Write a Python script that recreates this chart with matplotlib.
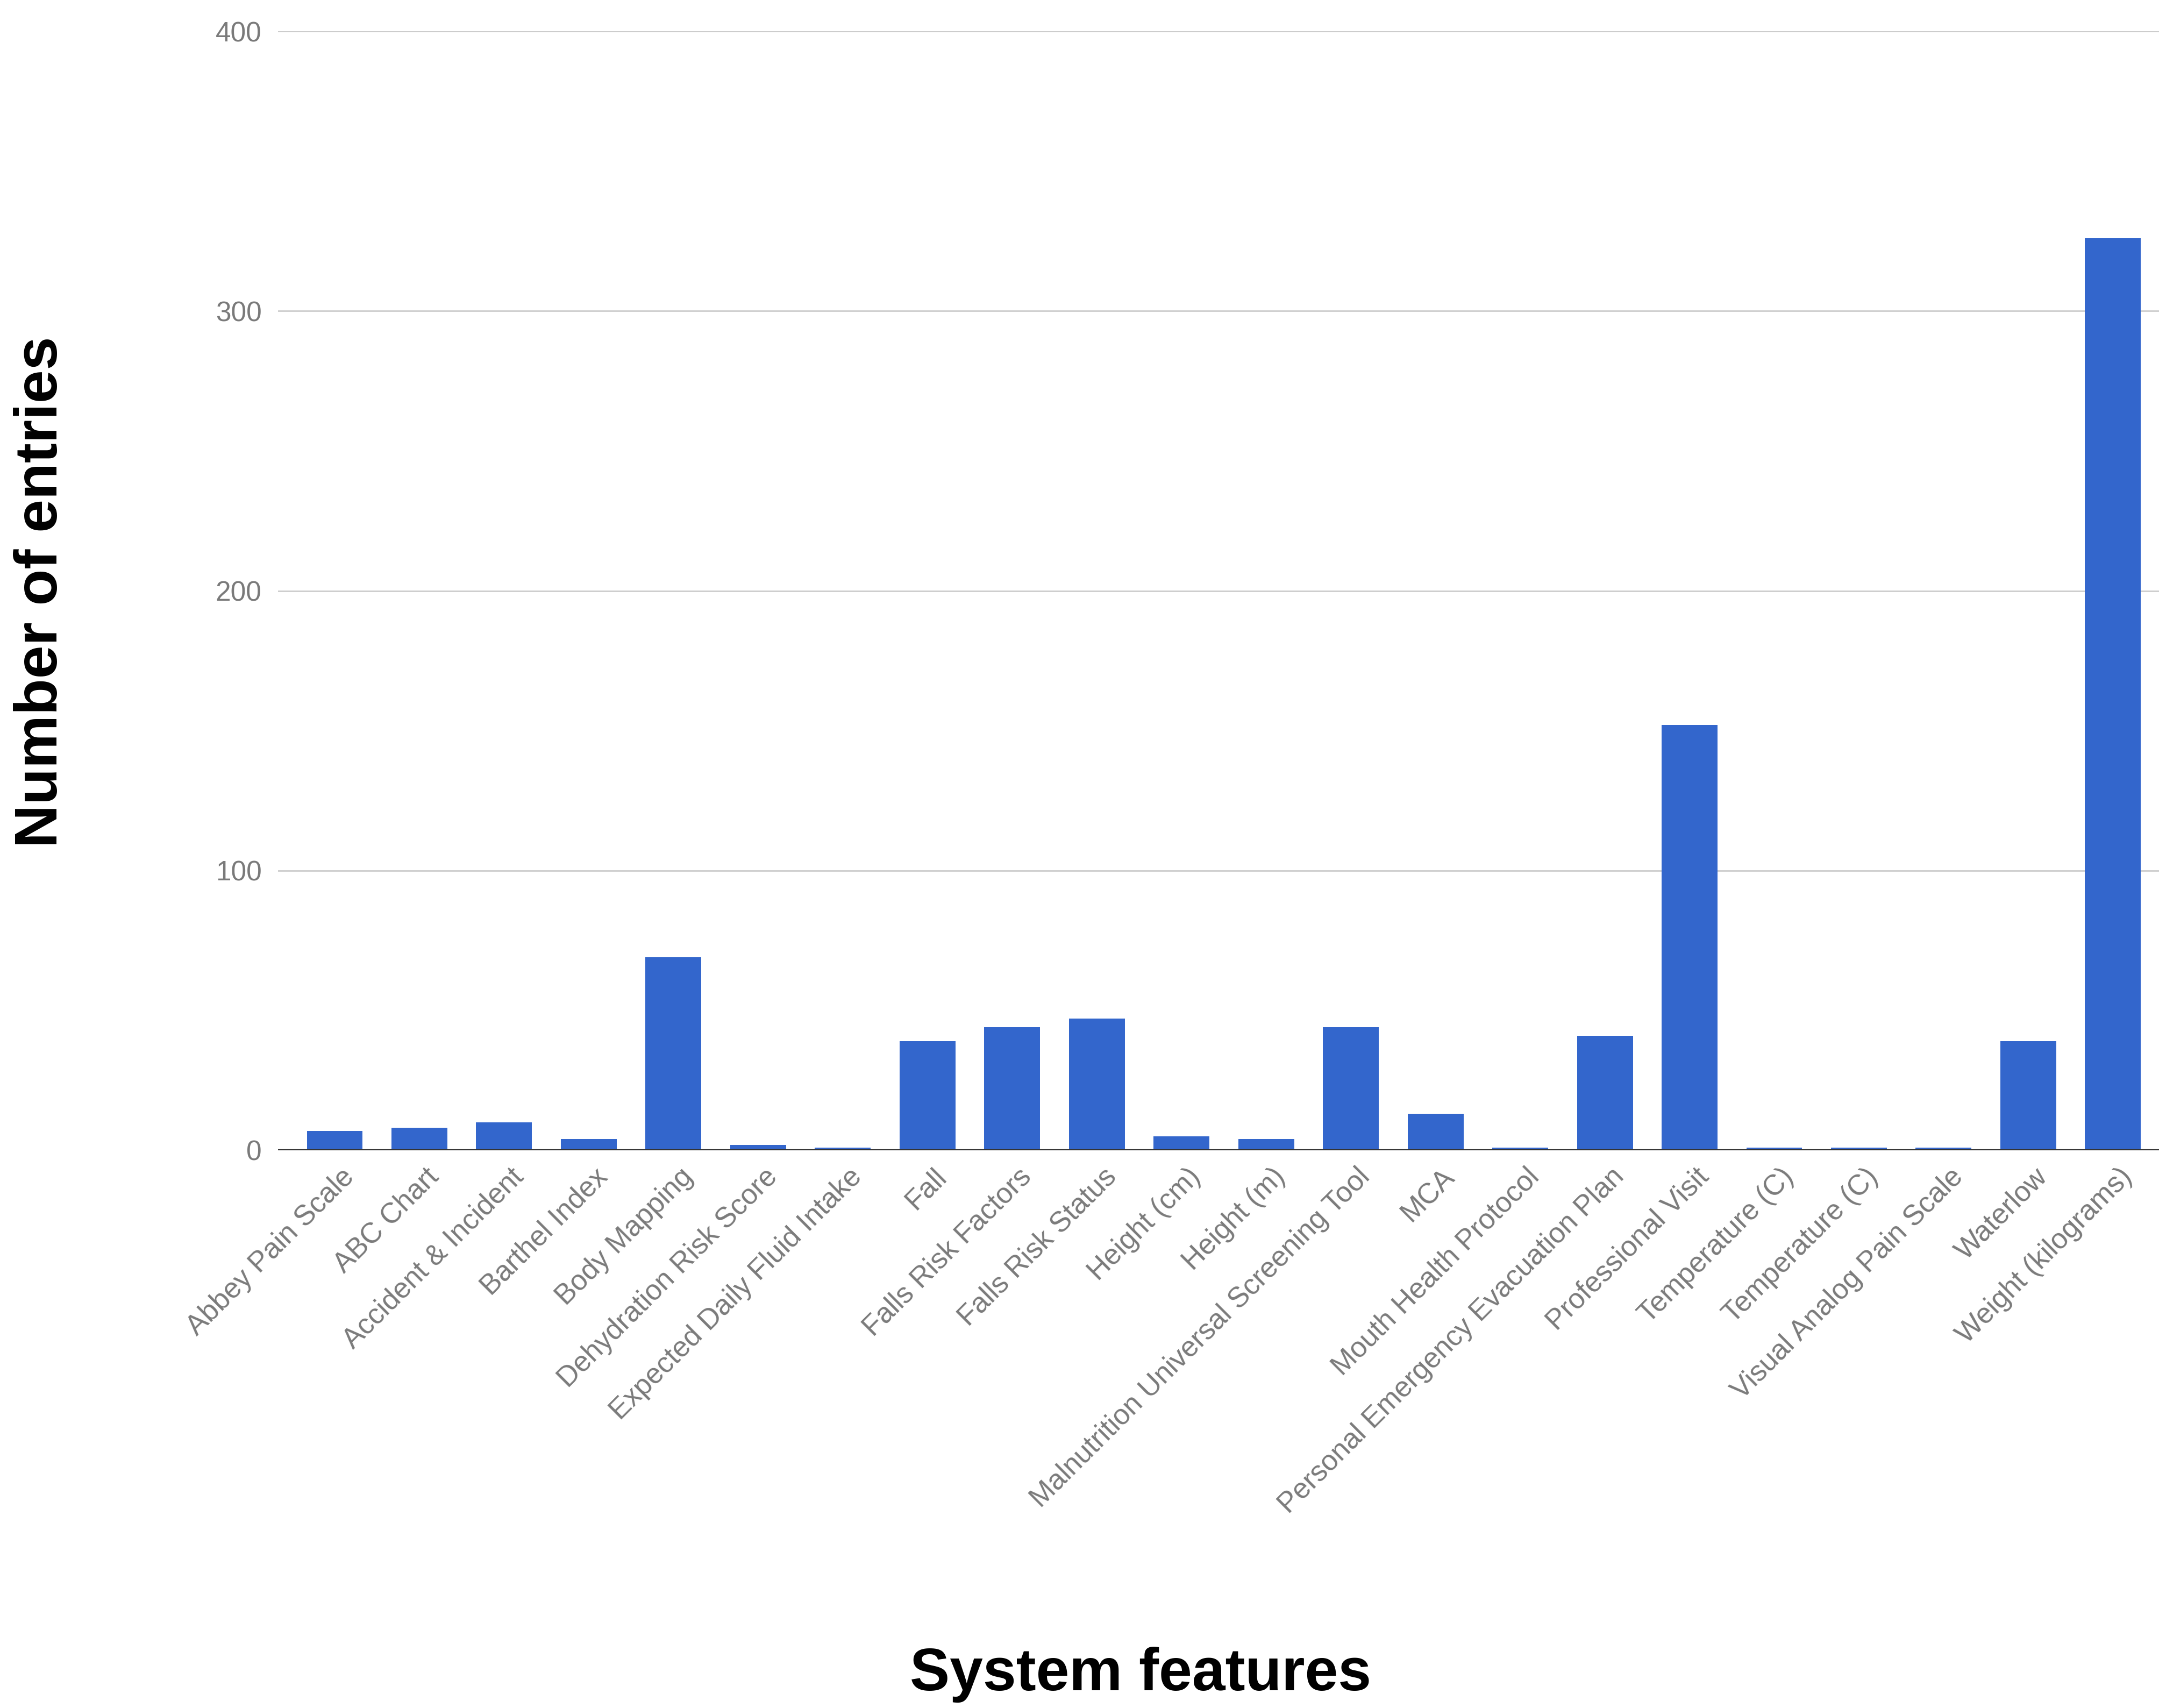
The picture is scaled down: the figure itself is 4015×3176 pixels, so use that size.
import matplotlib
matplotlib.use("Agg")
import matplotlib.pyplot as plt
import matplotlib.transforms as mtransforms

categories = [
    "Abbey Pain Scale", "ABC Chart", "Accident & Incident", "Barthel Index",
    "Body Mapping", "Dehydration Risk Score", "Expected Daily Fluid Intake",
    "Fall", "Falls Risk Factors", "Falls Risk Status", "Height (cm)",
    "Height (m)", "Malnutrition Universal Screening Tool", "MCA",
    "Mouth Health Protocol", "Personal Emergency Evacuation Plan",
    "Professional Visit", "Temperature (C)", "Temperature (C)",
    "Visual Analog Pain Scale", "Waterlow", "Weight (kilograms)",
]
entries = [7, 8, 10, 4, 69, 2, 1, 39, 44, 47, 5, 4, 44, 13, 1, 41, 152, 1, 1, 1, 39, 326]
y_ticks = [0, 100, 200, 300, 400]

W, H = 4016, 3176
fig = plt.figure(figsize=(W / 100, H / 100), dpi=100)
fig.patch.set_facecolor("white")

left_px, right_px, top_px, zero_px = 517, 4016, 58, 2139
ax = fig.add_axes([left_px / W, 1 - zero_px / H, (right_px - left_px) / W, (zero_px - top_px) / H])

x = list(range(len(categories)))
ax.bar(x, entries, width=0.66, color="#3366cc", linewidth=0, zorder=3)

ax.set_xlim(-0.67, 21.55)
ax.set_ylim(0, 400)
ax.set_yticks(y_ticks)
ax.set_yticklabels([str(v) for v in y_ticks])
ax.yaxis.grid(True, color="#cccccc", linewidth=2.0, zorder=0)
ax.axhline(0, color="#333333", linewidth=3.0, zorder=4)

for s in ax.spines.values():
    s.set_visible(False)

tick_font = "Liberation Sans"
ax.tick_params(axis="y", length=0, pad=22, labelsize=37, labelcolor="#7a7a7a")
ax.tick_params(axis="x", length=0, pad=30, labelsize=38, labelcolor="#7a7a7a")
for lbl in ax.get_yticklabels():
    lbl.set_fontfamily(tick_font)

ax.set_xticks(x)
ax.set_xticklabels(categories, rotation=45, ha="right", va="center", rotation_mode="anchor")
offset = mtransforms.ScaledTranslation(28 / 100, 0, fig.dpi_scale_trans)
for lbl in ax.get_xticklabels():
    lbl.set_fontfamily(tick_font)
    lbl.set_transform(lbl.get_transform() + offset)

fig.text(77 / W, 1 - 1101 / H, "Number of entries", rotation=90, ha="center", va="center",
         fontsize=80, fontweight="bold", family="Liberation Sans", color="black")
fig.text(2121 / W, 1 - 3114 / H, "System features", ha="center", va="center",
         fontsize=80, fontweight="bold", family="Liberation Sans", color="black")

fig.savefig("out.png", dpi=100, facecolor="white")
